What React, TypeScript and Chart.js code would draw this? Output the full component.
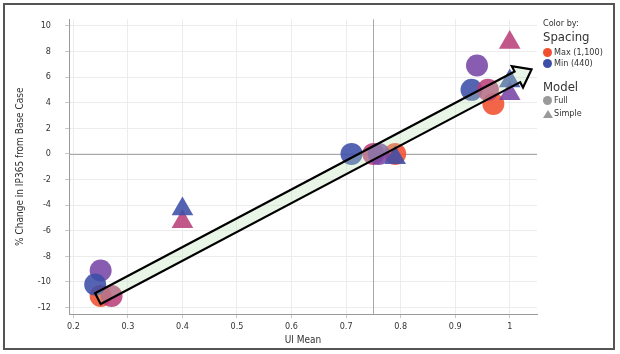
import React, { useEffect, useRef } from "react";
import { Chart, registerables } from "chart.js";

Chart.register(...registerables);

// ---- data ----
const fullUI = [0.25, 0.27, 0.25, 0.24, 0.79, 0.71, 0.75, 0.76, 0.97, 0.94, 0.93, 0.96];
const fullChange = [-11.1, -11.1, -9.1, -10.2, 0, 0, 0, 0, 3.9, 6.9, 5.0, 5.0];
const fullSpacing = [1100, 880, 660, 440, 1100, 440, 880, 660, 1100, 660, 440, 880];

const simpleUI = [0.4, 0.4, 0.79, 1.0, 1.0, 1.0];
const simpleChange = [-5.3, -4.3, -0.3, 8.7, 4.7, 5.7];
const simpleSpacing = [880, 440, 440, 880, 660, 440];

const xTickValues = [0.2, 0.3, 0.4, 0.5, 0.6, 0.7, 0.8, 0.9, 1.0];
const xTickLabels = ["0.2", "0.3", "0.4", "0.5", "0.6", "0.7", "0.8", "0.9", "1"];
const yTickValues = [-12, -10, -8, -6, -4, -2, 0, 2, 4, 6, 8, 10];
const yTickLabels = ["-12", "-10", "-8", "-6", "-4", "-2", "0", "2", "4", "6", "8", "10"];

const refX = 0.75;
const refY = 0;
const arrowTail = [0.245, -11.3];
const arrowTip = [1.04, 6.6];

const legendSpacing = ["Max (1,100)", "Min (440)"];
const legendSpacingValues = [1100, 440];
const legendModel = ["Full", "Simple"];

// ---- styles ----
const FONT = "'Liberation Sans Narrow', 'DejaVu Sans Condensed', 'Roboto Condensed', 'Liberation Sans', sans-serif";
const colorStops: [number, number[]][] = [
  [440, [60, 78, 168]],
  [660, [120, 70, 166]],
  [880, [186, 64, 122]],
  [1100, [240, 80, 48]],
];
function spacingColor(s: number, alpha = 0.88) {
  let c = colorStops[colorStops.length - 1][1];
  for (let i = 0; i < colorStops.length - 1; i++) {
    const [s0, c0] = colorStops[i];
    const [s1, c1] = colorStops[i + 1];
    if (s >= s0 && s <= s1) {
      const t = (s - s0) / (s1 - s0);
      c = c0.map((v, k) => Math.round(v + (c1[k] - v) * t));
      break;
    }
  }
  return `rgba(${c[0]},${c[1]},${c[2]},${alpha})`;
}

const overlayPlugin = {
  id: "overlay",
  beforeDatasetsDraw(chart: any) {
    const { ctx, chartArea: a, scales } = chart;
    const x = scales.x, y = scales.y;
    ctx.save();
    ctx.strokeStyle = "#a8a8a8";
    ctx.lineWidth = 1;
    const px = Math.round(x.getPixelForValue(refX)) + 0.5;
    ctx.beginPath();
    ctx.moveTo(px, a.top);
    ctx.lineTo(px, a.bottom);
    ctx.stroke();
    const py = Math.round(y.getPixelForValue(refY)) + 0.5;
    ctx.beginPath();
    ctx.moveTo(a.left, py);
    ctx.lineTo(a.right, py);
    ctx.stroke();
    ctx.restore();
  },
  afterDatasetsDraw(chart: any) {
    const { ctx, scales } = chart;
    const x = scales.x, y = scales.y;
    const tx = x.getPixelForValue(arrowTail[0]);
    const ty = y.getPixelForValue(arrowTail[1]);
    const hx = x.getPixelForValue(arrowTip[0]);
    const hy = y.getPixelForValue(arrowTip[1]);
    const dx = hx - tx, dy = hy - ty;
    const len = Math.hypot(dx, dy);
    const ux = dx / len, uy = dy / len;
    const nx = -uy, ny = ux;
    const sw = 6, hl = 16, hw = 12;
    const bx = hx - ux * hl, by = hy - uy * hl;
    const pts = [
      [tx + nx * sw, ty + ny * sw],
      [bx + nx * sw, by + ny * sw],
      [bx + nx * hw, by + ny * hw],
      [hx, hy],
      [bx - nx * hw, by - ny * hw],
      [bx - nx * sw, by - ny * sw],
      [tx - nx * sw, ty - ny * sw],
    ];
    ctx.save();
    ctx.beginPath();
    pts.forEach((p, i) => (i === 0 ? ctx.moveTo(p[0], p[1]) : ctx.lineTo(p[0], p[1])));
    ctx.closePath();
    ctx.fillStyle = "rgba(181,222,172,0.3)";
    ctx.fill();
    ctx.lineWidth = 2.2;
    ctx.lineJoin = "miter";
    ctx.strokeStyle = "#000";
    ctx.stroke();
    ctx.restore();
  },
};

export default function App() {
  const ref = useRef<HTMLCanvasElement | null>(null);

  useEffect(() => {
    if (!ref.current) return;
    const chart = new Chart(ref.current, {
      type: "scatter",
      data: {
        datasets: [
          {
            label: "Full",
            order: 1,
            data: fullUI.map((v, i) => ({ x: v, y: fullChange[i] })),
            pointStyle: "circle",
            pointRadius: 11,
            pointHoverRadius: 11,
            pointBorderWidth: 0,
            pointBackgroundColor: fullSpacing.map((s) => spacingColor(s)),
          },
          {
            label: "Simple",
            order: 0,
            data: simpleUI.map((v, i) => ({ x: v, y: simpleChange[i] })),
            pointStyle: "triangle",
            pointRadius: 12.5,
            pointHoverRadius: 12.5,
            pointBorderWidth: 0,
            pointBackgroundColor: simpleSpacing.map((s) => spacingColor(s)),
          },
        ],
      },
      options: {
        responsive: false,
        animation: false,
        layout: { padding: { top: 15, right: 83, bottom: 0, left: 0 } },
        plugins: { legend: { display: false }, tooltip: { enabled: false } },
        scales: {
          x: {
            type: "linear",
            min: 0.192,
            max: 1.05,
            afterBuildTicks: (s: any) => {
              s.ticks = xTickValues.map((value) => ({ value }));
            },
            afterFit: (s: any) => {
              s.height = 40;
            },
            ticks: {
              callback: (_v: any, i: number) => xTickLabels[i],
              font: { family: FONT, size: 9 },
              color: "#333",
              padding: 3,
              maxRotation: 0,
            },
            grid: { color: "#ececec", tickLength: 4, tickColor: "#c8c8c8" },
            border: { display: true, color: "#9a9a9a" },
            title: {
              display: true,
              text: "UI Mean",
              font: { family: FONT, size: 10 },
              color: "#333",
              padding: { top: 0, bottom: 8 },
            },
          },
          y: {
            type: "linear",
            min: -12.5,
            max: 10.5,
            afterBuildTicks: (s: any) => {
              s.ticks = yTickValues.map((value) => ({ value }));
            },
            afterFit: (s: any) => {
              s.width = 69;
            },
            ticks: {
              callback: (_v: any, i: number) => yTickLabels[i],
              font: { family: FONT, size: 9 },
              color: "#333",
              padding: 14,
            },
            grid: { color: "#ececec", tickLength: 4, tickColor: "#c8c8c8" },
            border: { display: true, color: "#9a9a9a" },
            title: {
              display: true,
              text: "% Change in IP365 from Base Case",
              font: { family: FONT, size: 10 },
              color: "#333",
              padding: { top: 14, bottom: 0 },
            },
          },
        },
      },
      plugins: [overlayPlugin],
    });
    return () => chart.destroy();
  }, []);

  const textStyle: React.CSSProperties = { position: "absolute", fontFamily: FONT, color: "#333", whiteSpace: "nowrap", lineHeight: 1 };

  return (
    <div style={{ position: "absolute", left: 0, top: 0, width: 620, height: 354, background: "#fff", overflow: "hidden" }}>
      <canvas ref={ref} width={620} height={354} style={{ position: "absolute", left: 0, top: 0 }} />
      <div style={{ position: "absolute", left: 3, top: 3, width: 612, height: 347, boxSizing: "border-box", border: "2px solid #555" }} />
      <div style={{ ...textStyle, left: 543, top: 19, fontSize: 9 }}>Color by:</div>
      <div style={{ ...textStyle, left: 543, top: 30, fontSize: 13 }}>Spacing</div>
      {legendSpacing.map((t, i) => (
        <React.Fragment key={t}>
          <div style={{ position: "absolute", left: 543, top: 48 + i * 11, width: 9, height: 9, borderRadius: "50%", background: spacingColor(legendSpacingValues[i], 1) }} />
          <div style={{ ...textStyle, left: 554, top: 48 + i * 11, fontSize: 9 }}>{t}</div>
        </React.Fragment>
      ))}
      <div style={{ ...textStyle, left: 543, top: 80, fontSize: 13 }}>Model</div>
      <div style={{ position: "absolute", left: 543, top: 96, width: 9, height: 9, borderRadius: "50%", background: "#9a9a9a" }} />
      <div style={{ ...textStyle, left: 554, top: 96, fontSize: 9 }}>{legendModel[0]}</div>
      <div style={{ position: "absolute", left: 543, top: 110, width: 0, height: 0, borderLeft: "5px solid transparent", borderRight: "5px solid transparent", borderBottom: "8px solid #9a9a9a" }} />
      <div style={{ ...textStyle, left: 554, top: 109, fontSize: 9 }}>{legendModel[1]}</div>
    </div>
  );
}
